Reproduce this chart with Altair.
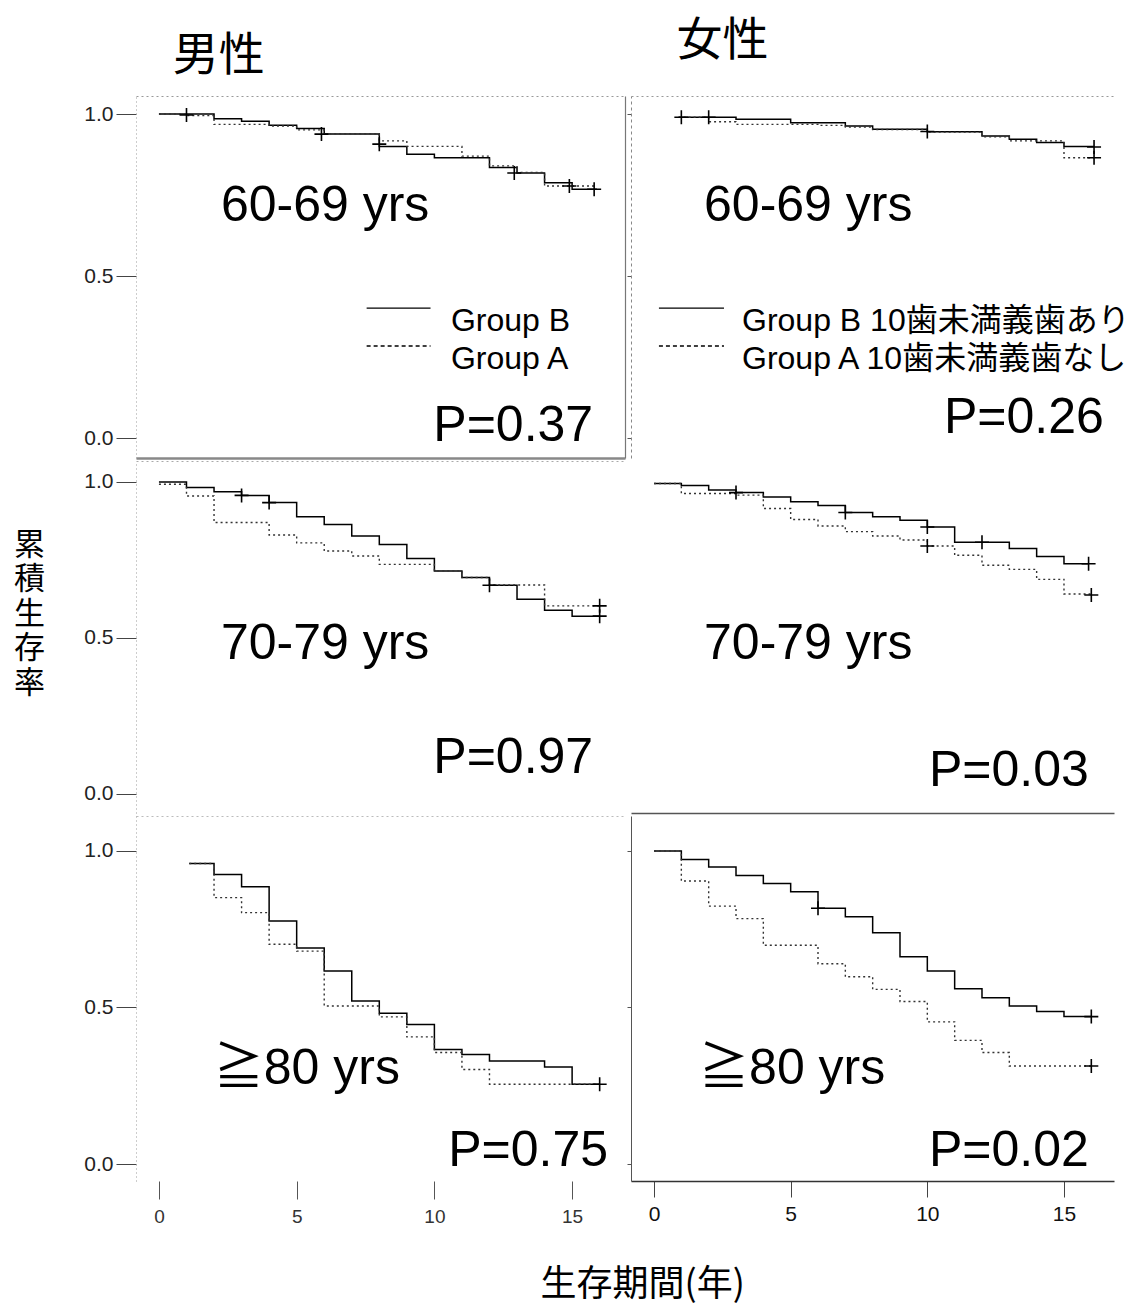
import altair as alt
import pandas as pd

# ---------------- data ----------------
# Men 60-69
m60_b_t = [0, 2, 3, 4, 5, 6, 8, 9, 10, 12, 13, 14, 15, 15.9]
m60_b_s = [1.0, 0.985, 0.978, 0.965, 0.955, 0.938, 0.90, 0.876, 0.865, 0.835, 0.818, 0.788, 0.768, 0.768]
m60_a_t = [0, 1, 2, 4, 5, 6, 8, 9, 11, 12, 13, 14, 15.9]
m60_a_s = [1.0, 0.995, 0.968, 0.963, 0.951, 0.939, 0.917, 0.90, 0.87, 0.84, 0.82, 0.778, 0.778]
m60_c_t = [1.0, 5.9, 8.0, 12.9, 14.9, 15.8]
m60_c_s = [0.997, 0.938, 0.907, 0.818, 0.778, 0.768]

# Women 60-69
w60_b_t = [0.9, 3, 5, 7, 8, 10, 12, 13, 14, 15, 16.1]
w60_b_s = [0.99, 0.984, 0.973, 0.963, 0.953, 0.945, 0.932, 0.922, 0.912, 0.90, 0.90]
w60_a_t = [0.9, 2, 3, 6, 7, 8, 10, 12, 13, 15, 16.1]
w60_a_s = [0.99, 0.976, 0.968, 0.965, 0.96, 0.952, 0.944, 0.93, 0.917, 0.865, 0.865]
w60_c_t = [1.0, 2.0, 10.0, 16.1, 16.1]
w60_c_s = [0.99, 0.99, 0.946, 0.898, 0.865]

# Men 70-79
m70_b_t = [0, 1, 2, 3, 4, 5, 6, 7, 8, 9, 10, 11, 12, 13, 14, 15, 16]
m70_b_s = [1.0, 0.982, 0.969, 0.957, 0.934, 0.889, 0.864, 0.827, 0.80, 0.755, 0.715, 0.694,
           0.669, 0.624, 0.589, 0.57, 0.57]
m70_a_t = [0, 1, 2, 4, 5, 6, 7, 8, 10, 11, 12, 14, 16]
m70_a_s = [0.993, 0.955, 0.87, 0.83, 0.805, 0.779, 0.763, 0.736, 0.715, 0.694, 0.67, 0.603, 0.603]
m70_c_t = [3.0, 4.0, 12.0, 16.0, 16.0]
m70_c_s = [0.957, 0.934, 0.669, 0.603, 0.57]

# Women 70-79
w70_b_t = [0, 1, 2, 3, 4, 5, 6, 7, 8, 9, 10, 11, 13, 14, 15, 15.9]
w70_b_s = [0.995, 0.989, 0.974, 0.966, 0.952, 0.937, 0.925, 0.902, 0.889, 0.877, 0.856, 0.807,
           0.787, 0.761, 0.738, 0.738]
w70_a_t = [0, 1, 3, 4, 5, 6, 7, 8, 9, 10, 11, 12, 13, 14, 15, 16]
w70_a_s = [0.995, 0.963, 0.958, 0.915, 0.88, 0.859, 0.841, 0.827, 0.814, 0.795, 0.765, 0.733,
           0.72, 0.688, 0.641, 0.641]
w70_c_t = [3.0, 7.0, 10.0, 10.0, 12.0, 15.9, 16.0]
w70_c_s = [0.966, 0.902, 0.856, 0.795, 0.807, 0.738, 0.638]

# Men >=80
m80_b_t = [1.1, 2, 3, 4, 5, 6, 7, 8, 9, 10, 11, 12, 14, 15, 16]
m80_b_s = [0.96, 0.925, 0.886, 0.776, 0.69, 0.617, 0.521, 0.482, 0.446, 0.366, 0.35, 0.329,
           0.31, 0.255, 0.255]
m80_a_t = [1.1, 2, 3, 4, 5, 6, 8, 9, 10, 11, 12, 16]
m80_a_s = [0.96, 0.851, 0.803, 0.702, 0.68, 0.505, 0.47, 0.406, 0.356, 0.302, 0.255, 0.255]
m80_c_t = [16.0]
m80_c_s = [0.255]

# Women >=80
w80_b_t = [0, 1, 2, 3, 4, 5, 6, 7, 8, 9, 10, 11, 12, 13, 14, 15, 16]
w80_b_s = [1.0, 0.973, 0.949, 0.922, 0.896, 0.87, 0.817, 0.79, 0.739, 0.662, 0.617, 0.56,
           0.531, 0.505, 0.487, 0.471, 0.471]
w80_a_t = [0, 1, 2, 3, 4, 6, 7, 8, 9, 10, 11, 12, 13, 16]
w80_a_s = [1.0, 0.904, 0.824, 0.784, 0.699, 0.64, 0.598, 0.558, 0.519, 0.454, 0.395, 0.356,
           0.313, 0.313]
w80_c_t = [6.0, 16.0, 16.0]
w80_c_s = [0.817, 0.471, 0.313]

age_labels = ["60-69 yrs", "70-79 yrs", "≧80 yrs"]
p_men = ["P=0.37", "P=0.97", "P=0.75"]
p_women = ["P=0.26", "P=0.03", "P=0.02"]
legend_men = ["Group B", "Group A"]
legend_women = ["Group B 10歯未満義歯あり", "Group A 10歯未満義歯なし"]
x_ticks = [0, 5, 10, 15]
y_ticks = [0, 0.5, 1.0]

# ---------------- layout / style ----------------
LAT = "Liberation Sans"
MIX = "Liberation Sans, Noto Sans CJK JP"
CJK = "Noto Sans CJK JP"
PLUS = "M-1,0L1,0M0,-1L0,1"

XL = [-0.833, 16.92]
XR = [-0.842, 16.83]
Y1 = [-0.0617, 1.0556]
Y2 = [-0.0609, 1.0673]
Y3 = [-0.0543, 1.1118]
WL, WR = 489, 483
H1, H2, H3 = 362, 352, 365


def df(t, s):
    return pd.DataFrame({"t": t, "s": s})


def text_layer(label, x, y, size):
    return alt.Chart(pd.DataFrame({"label": [label]})).mark_text(
        align="left", baseline="alphabetic", font=MIX, fontSize=size, color="black"
    ).encode(
        x=alt.XDatum(x, axis=None),
        y=alt.YDatum(y, axis=None),
        text=alt.Text("label:N"),
    )


def legend_layers(labels, x0, x1, xt):
    out = []
    rows = [(0.401, 0.33, None), (0.284, 0.213, [4, 3])]
    for lab, (yl, yt, dash) in zip(labels, rows):
        kw = dict(color="black", strokeWidth=1.4)
        if dash:
            kw["strokeDash"] = dash
        out.append(
            alt.Chart(pd.DataFrame({"k": [0]})).mark_rule(**kw).encode(
                x=alt.XDatum(x0, axis=None), x2=alt.X2Datum(x1), y=alt.YDatum(yl, axis=None)
            )
        )
        out.append(text_layer(lab, xt, yt, 32))
    return out


def panel(bt, bs, at, as_, ct, cs, xdom, ydom, w, h, age, age_xy, pval, p_xy,
          legend, ax_left, ax_bottom, ax_top, ax_right, title=None):
    xs = alt.Scale(domain=xdom, nice=False, zero=False)
    ys = alt.Scale(domain=ydom, nice=False, zero=False)
    lb = alt.Chart(df(bt, bs)).mark_line(
        interpolate="step-after", color="black", strokeWidth=1.5
    ).encode(
        x=alt.X("t:Q", scale=xs, axis=ax_bottom),
        y=alt.Y("s:Q", scale=ys, axis=ax_left),
    )
    la = alt.Chart(df(at, as_)).mark_line(
        interpolate="step-after", color="#333333", strokeWidth=1.4, strokeDash=[2, 3]
    ).encode(
        x=alt.X("t:Q", scale=xs, axis=ax_top),
        y=alt.Y("s:Q", scale=ys, axis=ax_right),
    )
    cens = alt.Chart(df(ct, cs)).mark_point(
        shape=PLUS, size=196, filled=False, color="black", strokeWidth=1.6, opacity=1
    ).encode(
        x=alt.X("t:Q", axis=None),
        y=alt.Y("s:Q", axis=None),
    )
    layers = [lb, la, cens,
              text_layer(age, age_xy[0], age_xy[1], 50),
              text_layer(pval, p_xy[0], p_xy[1], 50)]
    if legend:
        layers += legend
    props = dict(width=w, height=h)
    if title is not None:
        props["title"] = title
    return alt.layer(*layers).resolve_axis(x="independent", y="independent").properties(**props)


def y_left(title=False):
    kw = dict(values=y_ticks, format=".1f", labelFont=LAT, labelFontSize=21, labelColor="#222222",
              tickSize=20, tickColor="#444444", tickWidth=1, labelPadding=3,
              domainColor="#9a9a9a", domainDash=[1, 3], domainWidth=1, grid=False, title=None)
    if title:
        kw.update(title=["累", "積", "生", "存", "率"], titleAngle=0, titleX=-107, titleY=84,
                  titleAlign="center", titleBaseline="middle", titleFont=CJK, titleFontSize=31,
                  titleLineHeight=34.5, titleFontWeight="normal", titleColor="black")
    return alt.Axis(**kw)


def y_right_col(color, dash):
    kw = dict(values=y_ticks, labels=False, tickSize=4, tickColor="#555555",
              domainColor=color, domainWidth=1, grid=False, title=None)
    if dash:
        kw["domainDash"] = dash
    return alt.Axis(**kw)


def top_border(color):
    return alt.Axis(orient="top", labels=False, ticks=False, domainColor=color,
                    domainDash=[2, 3], domainWidth=1, grid=False, title=None)


def bottom_line(color, width):
    return alt.Axis(labels=False, ticks=False, domainColor=color, domainWidth=width,
                    grid=False, title=None)


x_bottom_left = alt.Axis(values=x_ticks, labelFont=LAT, labelFontSize=19, labelColor="#333333",
                         tickSize=18, tickColor="#555555", domain=False, labelPadding=8,
                         grid=False, title=None)
x_bottom_right = alt.Axis(values=x_ticks, labelFont=LAT, labelFontSize=21, labelColor="#111111",
                          tickSize=16, tickColor="#444444", domainColor="#333333", domainWidth=1.5,
                          labelPadding=6, grid=False, title=None)
right_border = alt.Axis(orient="right", labels=False, ticks=False, domainColor="#777777",
                        domainWidth=1.2, grid=False, title=None)

t_men = alt.TitleParams("男性", anchor="start", dx=89, fontSize=46, font=CJK,
                        fontWeight="normal", offset=16, color="black")
t_women = alt.TitleParams("女性", anchor="start", dx=50, fontSize=46, font=CJK,
                          fontWeight="normal", offset=31, color="black")

p1 = panel(m60_b_t, m60_b_s, m60_a_t, m60_a_s, m60_c_t, m60_c_s, XL, Y1, WL, H1,
           age_labels[0], (2.25, 0.67), p_men[0], (9.96, -0.009),
           legend_layers(legend_men, 7.54, 9.86, 10.6),
           y_left(), bottom_line("#888888", 2.5), top_border("#999999"), right_border, t_men)
p2 = panel(w60_b_t, w60_b_s, w60_a_t, w60_a_s, w60_c_t, w60_c_s, XR, Y1, WR, H1,
           age_labels[0], (1.83, 0.67), p_women[0], (10.61, 0.015),
           legend_layers(legend_women, 0.18, 2.56, 3.22),
           y_right_col("#888888", [3, 3]), None, top_border("#999999"), None, t_women)
p3 = panel(m70_b_t, m70_b_s, m70_a_t, m70_a_s, m70_c_t, m70_c_s, XL, Y2, WL, H2,
           age_labels[1], (2.25, 0.433), p_men[1], (9.96, 0.067), None,
           y_left(title=True), None, top_border("#aaaaaa"), None)
p4 = panel(w70_b_t, w70_b_s, w70_a_t, w70_a_s, w70_c_t, w70_c_s, XR, Y2, WR, H2,
           age_labels[1], (1.83, 0.433), p_women[1], (10.06, 0.026), None,
           None, bottom_line("#555555", 1.5), None, None)
p5 = panel(m80_b_t, m80_b_s, m80_a_t, m80_a_s, m80_c_t, m80_c_s, XL, Y3, WL, H3,
           age_labels[2], (1.99, 0.256), p_men[2], (10.5, -0.006), None,
           y_left(), x_bottom_left, top_border("#bbbbbb"), None)
p6 = panel(w80_b_t, w80_b_s, w80_a_t, w80_a_s, w80_c_t, w80_c_s, XR, Y3, WR, H3,
           age_labels[2], (1.65, 0.256), p_women[2], (10.06, -0.006), None,
           y_right_col("#555555", None), x_bottom_right, None, None)

chart = alt.ConcatChart(
    concat=[p1, p2, p3, p4, p5, p6],
    columns=2,
    spacing={"row": 3, "column": 1},
    align="each",
    padding={"top": 10, "left": 5, "right": 5, "bottom": 5},
    title=alt.TitleParams("生存期間(年)", orient="bottom", anchor="start", dx=527,
                          fontSize=36, font=CJK, fontWeight="normal", offset=42, color="black"),
).configure_view(strokeWidth=0).properties(background="white")

chart.save("out.html", embed_options={"renderer": "svg", "actions": False})
